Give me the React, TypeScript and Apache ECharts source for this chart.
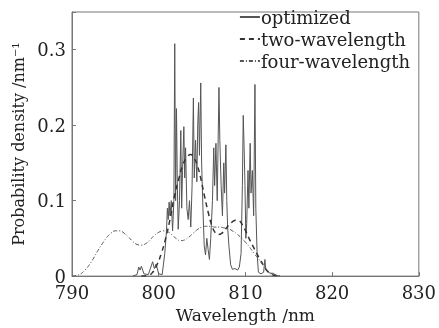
import React, { useEffect, useRef } from "react";
import * as echarts from "echarts";

const seriesNames = ["optimized", "two-wavelength", "four-wavelength"];

const optX = [797.0, 797.5, 797.7, 797.85, 798.0, 798.3, 798.8, 799.1, 799.3, 799.5, 799.7, 800.0, 800.4, 800.7, 800.9, 801.0, 801.1, 801.2, 801.3, 801.45, 801.6, 801.75, 801.85, 801.95, 802.05, 802.15, 802.25, 802.4, 802.55, 802.65, 802.75, 802.9, 803.0, 803.1, 803.25, 803.4, 803.55, 803.7, 803.85, 804.0, 804.1, 804.25, 804.4, 804.5, 804.6, 804.7, 804.85, 804.95, 805.1, 805.25, 805.4, 805.55, 805.7, 805.85, 806.0, 806.2, 806.35, 806.45, 806.6, 806.75, 806.95, 807.05, 807.2, 807.35, 807.5, 807.6, 807.75, 807.85, 807.95, 808.1, 808.3, 808.5, 808.8, 809.1, 809.3, 809.5, 809.65, 809.75, 809.85, 809.95, 810.05, 810.15, 810.3, 810.4, 810.55, 810.65, 810.8, 810.95, 811.1, 811.2, 811.35, 811.5, 811.8, 812.1, 812.25, 812.35, 812.6, 812.9, 813.2, 813.5, 814.0];
const optY = [0, 0.002, 0.012, 0.008, 0.013, 0.003, 0.002, 0.012, 0.019, 0.01, 0.016, 0.003, 0.002, 0.03, 0.06, 0.09, 0.075, 0.098, 0.08, 0.1, 0.06, 0.1, 0.308, 0.1, 0.222, 0.12, 0.062, 0.1, 0.193, 0.09, 0.14, 0.198, 0.13, 0.17, 0.09, 0.075, 0.1, 0.065, 0.12, 0.236, 0.13, 0.18, 0.125, 0.2, 0.23, 0.16, 0.256, 0.15, 0.09, 0.04, 0.028, 0.05, 0.035, 0.022, 0.05, 0.1, 0.17, 0.12, 0.176, 0.1, 0.25, 0.18, 0.12, 0.08, 0.15, 0.11, 0.174, 0.1, 0.065, 0.04, 0.015, 0.009, 0.01, 0.008, 0.012, 0.03, 0.12, 0.213, 0.17, 0.12, 0.05, 0.07, 0.14, 0.09, 0.176, 0.11, 0.14, 0.08, 0.254, 0.09, 0.03, 0.005, 0.003, 0.005, 0.022, 0.008, 0.006, 0.003, 0.004, 0.001, 0];

const twoX = [798.0, 798.8, 799.3, 799.8, 800.3, 800.8, 801.3, 801.8, 802.3, 802.8, 803.3, 803.7, 804.1, 804.5, 804.9, 805.3, 805.7, 806.1, 806.5, 806.9, 807.3, 807.7, 808.1, 808.5, 808.9, 809.3, 809.7, 810.1, 810.5, 810.9, 811.3, 811.7, 812.1, 812.5, 812.9, 813.3, 814.0];
const twoY = [0, 0.001, 0.005, 0.015, 0.03, 0.05, 0.075, 0.105, 0.128, 0.148, 0.158, 0.161, 0.156, 0.145, 0.127, 0.105, 0.085, 0.068, 0.058, 0.055, 0.057, 0.062, 0.068, 0.072, 0.074, 0.073, 0.067, 0.058, 0.048, 0.039, 0.03, 0.022, 0.014, 0.007, 0.003, 0.001, 0];

const fourX = [790, 790.5, 791, 791.5, 792, 792.5, 793, 793.5, 794, 794.5, 795, 795.5, 796, 796.5, 797, 797.5, 798, 798.5, 799, 799.5, 800, 800.5, 801, 801.5, 802, 802.5, 803, 803.5, 804, 804.5, 805, 805.5, 806, 806.5, 807, 807.5, 808, 808.5, 809, 809.5, 810, 810.5, 811, 811.5, 812, 812.5, 813, 813.5, 814];
const fourY = [0, 0.001, 0.003, 0.008, 0.015, 0.024, 0.034, 0.043, 0.051, 0.057, 0.06, 0.06, 0.057, 0.052, 0.046, 0.042, 0.041, 0.043, 0.048, 0.054, 0.058, 0.06, 0.059, 0.055, 0.05, 0.047, 0.048, 0.052, 0.057, 0.062, 0.065, 0.066, 0.066, 0.065, 0.065, 0.064, 0.063, 0.06, 0.056, 0.051, 0.045, 0.038, 0.03, 0.023, 0.015, 0.008, 0.004, 0.0015, 0];

const xTicks = [790, 800, 810, 820, 830];
const yTicks = [0, 0.1, 0.2, 0.3];

const zip = (xs: number[], ys: number[]) => xs.map((x, i) => [x, ys[i]]);

const FONT = "DejaVu Serif";

export default function App() {
  const ref = useRef<HTMLDivElement>(null);
  useEffect(() => {
    if (!ref.current) return;
    const chart = echarts.init(ref.current, undefined, { renderer: "svg" });
    chart.setOption({
      animation: false,
      textStyle: { fontFamily: FONT },
      grid: {
        left: 72,
        right: 17,
        top: 12,
        bottom: 46,
        show: true,
        borderColor: "#777",
        borderWidth: 1,
      },
      legend: {
        orient: "vertical",
        right: 24,
        top: 3,
        itemWidth: 20,
        itemHeight: 10,
        itemGap: 4,
        itemStyle: { opacity: 0 },
        textStyle: { fontFamily: FONT, fontSize: 18, color: "#222", padding: [0, 0, 0, -4] },
        data: seriesNames,
      },
      xAxis: {
        type: "value",
        min: xTicks[0],
        max: xTicks[xTicks.length - 1],
        interval: 10,
        name: "Wavelength /nm",
        nameLocation: "middle",
        nameGap: 25,
        nameTextStyle: { fontFamily: FONT, fontSize: 17, color: "#222" },
        axisLine: { lineStyle: { color: "#777" } },
        axisTick: { inside: true, length: 4, lineStyle: { color: "#777" } },
        axisLabel: { fontFamily: FONT, fontSize: 18, color: "#222", margin: 7 },
        splitLine: { show: false },
      },
      yAxis: {
        type: "value",
        min: yTicks[0],
        max: 0.35,
        interval: 0.1,
        name: "Probability density /nm⁻¹",
        nameLocation: "middle",
        nameGap: 46,
        nameTextStyle: { fontFamily: FONT, fontSize: 16, color: "#222" },
        axisLine: { show: true, lineStyle: { color: "#777" } },
        axisTick: { show: true, inside: true, length: 4, lineStyle: { color: "#777" } },
        axisLabel: {
          fontFamily: FONT,
          fontSize: 18,
          color: "#222",
          margin: 6,
          formatter: (v: number) => (yTicks.some((t) => Math.abs(t - v) < 1e-9) ? String(Math.round(v * 10) / 10) : ""),
        },
        splitLine: { show: false },
      },
      series: [
        {
          name: seriesNames[0],
          type: "line",
          data: zip(optX, optY),
          showSymbol: false,
          symbol: "none",
          lineStyle: { color: "#555", width: 1 },
          itemStyle: { color: "#555" },
        },
        {
          name: seriesNames[1],
          type: "line",
          data: zip(twoX, twoY),
          smooth: true,
          showSymbol: false,
          symbol: "none",
          lineStyle: { color: "#333", width: 1.5, type: [5, 4] },
          itemStyle: { color: "#333" },
        },
        {
          name: seriesNames[2],
          type: "line",
          data: zip(fourX, fourY),
          smooth: true,
          showSymbol: false,
          symbol: "none",
          lineStyle: { color: "#555", width: 1, type: [4, 2, 1, 2] },
          itemStyle: { color: "#555" },
        },
      ],
    });
    return () => chart.dispose();
  }, []);
  return <div ref={ref} style={{ position: "fixed", left: 0, top: 0, width: 439, height: 328 }} />;
}
